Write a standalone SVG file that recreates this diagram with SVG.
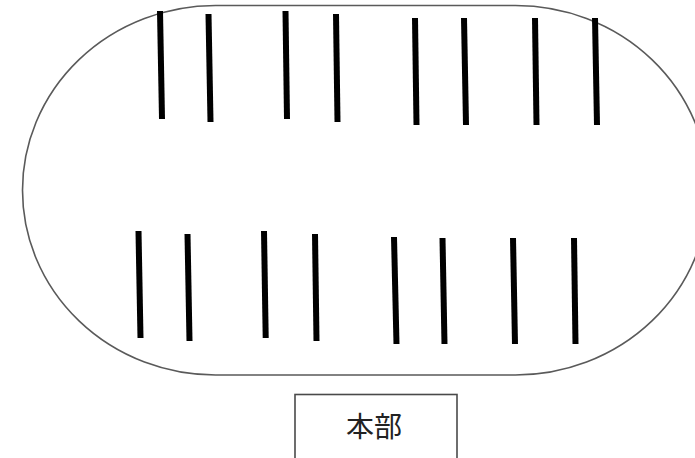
<svg xmlns="http://www.w3.org/2000/svg" width="695" height="458" viewBox="0 0 695 458">
<style>
.track{fill:#fff;stroke:#5a5a5a;stroke-width:1.6}
.bar{stroke:#000;stroke-width:6;stroke-linecap:butt}
.box{fill:#fff;stroke:#4a4a4a;stroke-width:1.6}
.lbl{font-family:"Noto Sans CJK JP","Noto Sans CJK SC",sans-serif;font-size:28px;fill:#222}
</style>
<rect width="695" height="458" fill="#fff"/>
<g id="track">
<rect class="track" x="22.5" y="5.5" width="686" height="369.5" rx="193" ry="185"/>
</g>
<g id="bars">
<line class="bar" x1="160" y1="11" x2="162" y2="119"/>
<line class="bar" x1="208.5" y1="14" x2="210.5" y2="122"/>
<line class="bar" x1="285.5" y1="11" x2="287" y2="119"/>
<line class="bar" x1="336" y1="14" x2="337.5" y2="122"/>
<line class="bar" x1="415" y1="18" x2="416.5" y2="125"/>
<line class="bar" x1="464" y1="18" x2="466" y2="125"/>
<line class="bar" x1="535" y1="18" x2="536.5" y2="125"/>
<line class="bar" x1="595" y1="18" x2="597" y2="125"/>
<line class="bar" x1="138.5" y1="231" x2="140.5" y2="338"/>
<line class="bar" x1="187.5" y1="234" x2="189.5" y2="341"/>
<line class="bar" x1="264" y1="231" x2="265.7" y2="338"/>
<line class="bar" x1="315" y1="234" x2="316.5" y2="341"/>
<line class="bar" x1="394" y1="237" x2="396.5" y2="344"/>
<line class="bar" x1="442.5" y1="238" x2="444.5" y2="344"/>
<line class="bar" x1="513" y1="238" x2="515" y2="344"/>
<line class="bar" x1="574" y1="238" x2="575.5" y2="344"/>
</g>
<g id="honbu">
<rect class="box" x="295" y="394.5" width="162" height="70"/>
<text class="lbl" x="374" y="437" text-anchor="middle">本部</text>
</g>
</svg>
